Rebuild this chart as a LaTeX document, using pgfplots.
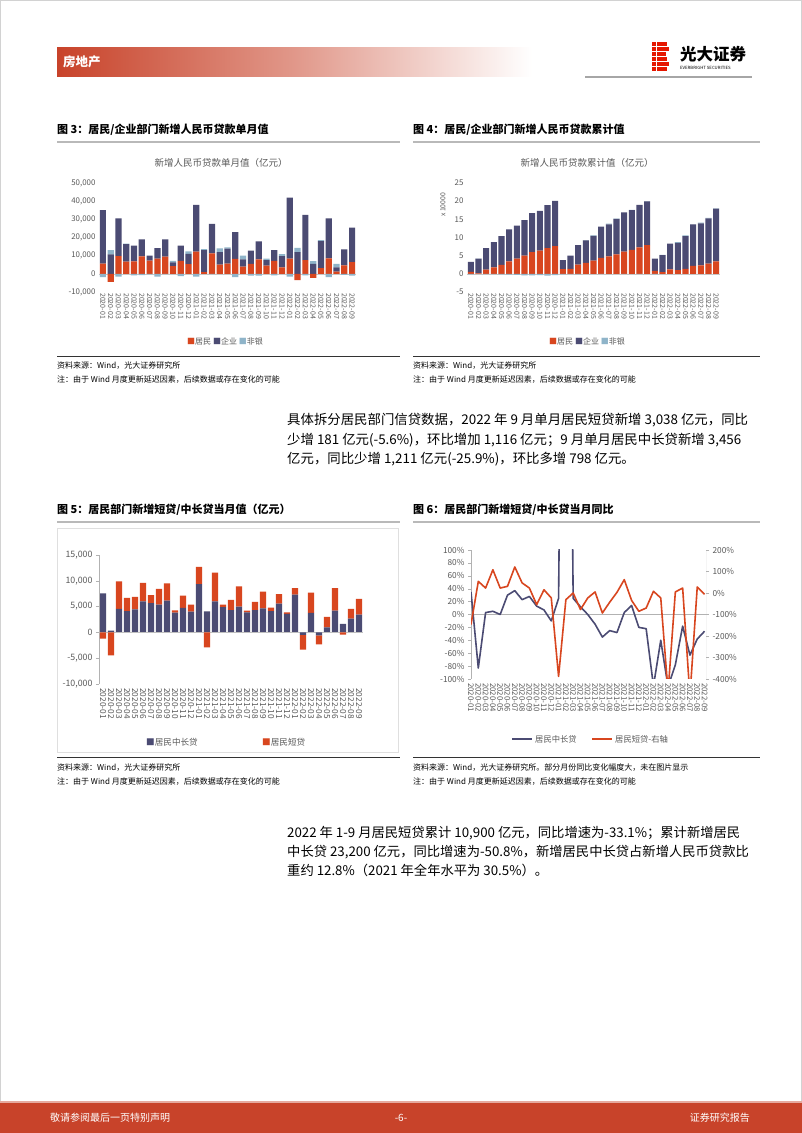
\documentclass[border=0pt]{standalone}
\usepackage{pgfplots}
\usepackage{pgfplotstable}
\pgfplotsset{compat=1.18}
\usepackage{fontspec}
\setmainfont{Noto Sans CJK SC}
\definecolor{hred}{HTML}{D8461F}
\definecolor{hnavy}{HTML}{4B4B73}
\definecolor{hblue}{HTML}{8FB4C9}
\definecolor{bandred}{HTML}{C8432A}
\definecolor{tickgray}{HTML}{595959}

% Fig 3: monthly new RMB loans (100m yuan), split into positive / negative parts
\pgfplotstableread{
x hhp corp nbp hhn nbn
1 5600 29400 0 0 -1800
2 0 10700 2300 -4500 0
3 9800 20700 0 0 -1600
4 6700 9600 300 0 0
5 6800 8700 0 0 -800
6 9600 9400 0 0 -700
7 7200 2800 0 0 -300
8 8400 5800 0 0 -1500
9 9500 9500 0 0 -200
10 4300 2000 800 0 0
11 7100 8400 0 0 -1300
12 5400 5600 1300 0 0
13 12200 25800 0 0 -1600
14 1000 12000 600 0 0
15 11300 16200 0 0 -200
16 5000 7000 2000 0 0
17 5600 8300 700 0 0
18 8200 14800 0 0 -1800
19 4000 4000 2000 0 0
20 5500 7300 0 0 -1000
21 7900 9900 0 0 -1000
22 4500 3000 900 0 0
23 7100 5900 0 0 -800
24 3600 6200 1000 0 0
25 8400 33600 0 0 -1500
26 0 12000 2300 -3400 0
27 7500 25000 0 0 -800
28 0 5500 1500 -2200 0
29 3200 14800 500 0 0
30 8500 22000 0 0 -1800
31 1200 2300 2000 0 0
32 4600 8900 0 0 -600
33 6500 19000 0 0 -1000
}\tThree

% Fig 4: cumulative (x 10000)
\pgfplotstableread{
x hh corp nbp nbn
1 0.56 2.74 0 -0.18
2 0.15 4.00 0.05 0
3 1.13 5.97 0 -0.11
4 1.80 6.90 0 -0.08
5 2.48 7.92 0 -0.16
6 3.44 8.76 0 -0.23
7 4.16 9.14 0 -0.26
8 5.00 9.80 0 -0.41
9 5.95 10.75 0 -0.43
10 6.38 10.92 0 -0.35
11 7.09 11.81 0 -0.48
12 7.63 12.47 0 -0.35
13 1.27 2.53 0 -0.16
14 1.37 3.63 0 -0.10
15 2.50 5.40 0 -0.12
16 3.00 6.22 0.08 0
17 3.60 6.85 0.15 0
18 4.40 8.60 0 -0.03
19 4.80 8.83 0.17 0
20 5.35 9.78 0.07 0
21 6.14 10.76 0 -0.03
22 6.60 10.94 0.06 0
23 7.30 11.70 0 -0.02
24 7.90 12.02 0.08 0
25 0.84 3.36 0 -0.15
26 0.50 4.62 0.08 0
27 1.25 7.05 0 0
28 1.03 7.52 0.15 0
29 1.35 9.05 0.20 0
30 2.20 11.38 0.02 0
31 2.32 11.56 0.22 0
32 2.78 12.46 0.16 0
33 3.43 14.51 0.06 0
}\tFour

% Fig 5: household mid/long-term and short-term loans
\pgfplotstableread{
x mlp stp mln stn
1 7580 0 0 -1200
2 320 0 0 -4450
3 4540 5330 0 0
4 4110 2560 0 0
5 4440 2420 0 0
6 6000 3620 0 0
7 5670 1560 0 0
8 5390 3050 0 0
9 6150 3340 0 0
10 3830 450 0 0
11 4770 2370 0 0
12 4040 1330 0 0
13 9370 3330 0 0
14 4070 0 0 -2900
15 6000 5600 0 0
16 4900 500 0 0
17 4300 2000 0 0
18 5000 3900 0 0
19 3900 300 0 0
20 4300 1600 0 0
21 4667 3219 0 0
22 4100 700 0 0
23 5600 1800 0 0
24 3600 300 0 0
25 7300 1300 0 0
26 0 0 -459 -2900
27 3800 3900 0 0
28 0 0 -600 -1700
29 950 2050 0 0
30 4200 4400 0 0
31 1650 0 0 -440
32 2658 1922 0 0
33 3456 3038 0 0
}\tFive

% Fig 6: YoY (%)
\pgfplotstableread{
x ml st
1 35 -147
2 -83 54
3 3 23
4 5 108
5 0 23
6 30 31
7 37 121
8 23 47
9 28 23
10 13 -54
11 7 15
12 -10 -23
13 25 -388
14 1170 -31
15 25 0
16 12 -77
17 0 -23
18 -15 5
19 -35 -93
20 -25 -43
21 -28 3
22 3 62
23 14 -34
24 -20 -85
25 -22 -70
26 -111 8
27 -40 -23
28 -112 -460
29 -78 5
30 -18 23
31 -63 -480
32 -38 28
33 -26 -6
}\tSix

\pgfplotsset{
 base/.style={
  scale only axis, anchor=south west, enlargelimits=false,
  axis line style={draw=none}, tick style={draw=none},
  /pgf/number format/assume math mode=true,
  /pgf/number format/1000 sep={,},
  scaled y ticks=false,
  ticklabel style={text=tickgray},
 },
 blank/.style={base, xtick=\empty, ytick=\empty},
 monthlabels/.style={xtick={1,...,33},
  xticklabels={2020-01,2020-02,2020-03,2020-04,2020-05,2020-06,2020-07,2020-08,2020-09,2020-10,2020-11,2020-12,2021-01,2021-02,2021-03,2021-04,2021-05,2021-06,2021-07,2021-08,2021-09,2021-10,2021-11,2021-12,2022-01,2022-02,2022-03,2022-04,2022-05,2022-06,2022-07,2022-08,2022-09},
  xticklabel style={rotate=-90, anchor=west, inner sep=1pt}},
}

\newcommand{\fs}[1]{\fontsize{#1}{#1}\selectfont}

\begin{document}
\begin{tikzpicture}[x=1pt,y=1pt]
\fill[white] (0,0) rectangle (802,1133);
\draw[gray!35, line width=0.6pt] (0.3,0.3) rectangle (801.7,1132.7);

% ---------- header ----------
\shade[left color=bandred, right color=white, middle color=bandred!55] (57,1056) rectangle (532,1085);
\node[anchor=base west, inner sep=0, text=white] at (63,1066) {\fs{12.5}\bfseries 房地产};
\foreach \yy/\ww in {1091/15,1086/17,1081/14,1076/15,1071/17,1066/15}
  \fill[red!80!orange!90!black] (652,\yy) rectangle ++(\ww,-4);
\fill[white] (656,1091) rectangle (657.2,1062);
\node[anchor=west, inner sep=0] at (680,1079) {\fs{16.5}\bfseries 光大证券};
\node[anchor=west, inner sep=0] at (680,1065) {\fs{4.3}EVERBRIGHT SECURITIES};
\draw[gray!70, line width=2pt] (585,1056) -- (752,1056);

% ---------- captions fig 3/4 ----------
\node[anchor=base west, inner sep=0] at (57,999) {\fs{11}\bfseries 图 3：居民/企业部门新增人民币贷款单月值};
\node[anchor=base west, inner sep=0] at (413,999) {\fs{11}\bfseries 图 4：居民/企业部门新增人民币贷款累计值};
\draw[gray!55, line width=1.6pt] (57,991) -- (400,991);
\draw[gray!55, line width=1.6pt] (413,991) -- (760,991);

\node[text=tickgray] at (221,970) {\fs{9.5}新增人民币贷款单月值（亿元）};
\node[text=tickgray] at (587,970) {\fs{9.5}新增人民币贷款累计值（亿元）};

% ---------- Fig 3 ----------
\begin{axis}[base, at={(99pt,841pt)}, width=257pt, height=109pt,
  xmin=0.5, xmax=33.5, ymin=-10000, ymax=50000,
  ytick={-10000,0,...,50000}, monthlabels,
  ybar stacked, bar width=6.2pt,
  yticklabel style={font=\fs{7.9}}, xticklabel style={font=\fs{7}}]
\addplot[fill=hred, draw=none] table[x=x,y=hhp]{\tThree};
\addplot[fill=hnavy, draw=none] table[x=x,y=corp]{\tThree};
\addplot[fill=hblue, draw=none] table[x=x,y=nbp]{\tThree};
\end{axis}
\begin{axis}[blank, at={(99pt,841pt)}, width=257pt, height=109pt,
  xmin=0.5, xmax=33.5, ymin=-10000, ymax=50000, ybar stacked, bar width=6.2pt]
\addplot[fill=hred, draw=none] table[x=x,y=hhn]{\tThree};
\addplot[fill=hblue, draw=none] table[x=x,y=nbn]{\tThree};
\draw[gray!45] (axis cs:0.5,0) -- (axis cs:33.5,0);
\end{axis}

% ---------- Fig 4 ----------
\begin{axis}[base, at={(467pt,841pt)}, width=253pt, height=109pt,
  xmin=0.5, xmax=33.5, ymin=-5, ymax=25,
  ytick={-5,0,...,25}, monthlabels,
  ybar stacked, bar width=6.1pt,
  yticklabel style={font=\fs{7.9}}, xticklabel style={font=\fs{7}}]
\addplot[fill=hred, draw=none] table[x=x,y=hh]{\tFour};
\addplot[fill=hnavy, draw=none] table[x=x,y=corp]{\tFour};
\addplot[fill=hblue, draw=none] table[x=x,y=nbp]{\tFour};
\end{axis}
\begin{axis}[blank, at={(467pt,841pt)}, width=253pt, height=109pt,
  xmin=0.5, xmax=33.5, ymin=-5, ymax=25, ybar stacked, bar width=6.1pt]
\addplot[fill=hblue, draw=none] table[x=x,y=nbn]{\tFour};
\draw[gray!45] (axis cs:0.5,0) -- (axis cs:33.5,0);
\end{axis}
\node[rotate=90, text=tickgray] at (443,928) {\fs{6.8}x 10000};

% legends 3/4
\node[text=tickgray] at (225,792) {\fs{8}{\color{hred}■}居民 {\color{hnavy}■}企业 {\color{hblue}■}非银};
\node[text=tickgray] at (587,792) {\fs{8}{\color{hred}■}居民 {\color{hnavy}■}企业 {\color{hblue}■}非银};

% sources 3/4
\draw[black!80, line width=0.6pt] (57,777) -- (400,777);
\draw[black!80, line width=0.6pt] (413,777) -- (760,777);
\node[anchor=base west, inner sep=0] at (57,764) {\fs{8}资料来源：Wind，光大证券研究所};
\node[anchor=base west, inner sep=0] at (57,750) {\fs{8}注：由于 Wind 月度更新延迟因素，后续数据或存在变化的可能};
\node[anchor=base west, inner sep=0] at (413,764) {\fs{8}资料来源：Wind，光大证券研究所};
\node[anchor=base west, inner sep=0] at (413,750) {\fs{8}注：由于 Wind 月度更新延迟因素，后续数据或存在变化的可能};

% paragraph 1
\node[anchor=base west, inner sep=0] at (287,708) {\fs{13.4}具体拆分居民部门信贷数据，2022 年 9 月单月居民短贷新增 3,038 亿元，同比};
\node[anchor=base west, inner sep=0] at (287,688) {\fs{13.4}少增 181 亿元(-5.6\%)，环比增加 1,116 亿元；9 月单月居民中长贷新增 3,456};
\node[anchor=base west, inner sep=0] at (287,669) {\fs{13.4}亿元，同比少增 1,211 亿元(-25.9\%)，环比多增 798 亿元。};

% ---------- captions fig 5/6 ----------
\node[anchor=base west, inner sep=0] at (57,619) {\fs{11}\bfseries 图 5：居民部门新增短贷/中长贷当月值（亿元）};
\node[anchor=base west, inner sep=0] at (413,619) {\fs{11}\bfseries 图 6：居民部门新增短贷/中长贷当月同比};
\draw[gray!55, line width=1.6pt] (57,611) -- (400,611);
\draw[gray!55, line width=1.6pt] (413,611) -- (760,611);

\draw[gray!25, line width=0.6pt] (57,381) rectangle (398,605);

% ---------- Fig 5 ----------
\begin{axis}[base, at={(99pt,449pt)}, width=264pt, height=129pt,
  xmin=0.5, xmax=33.5, ymin=-10000, ymax=15000,
  ytick={-10000,-5000,...,15000}, monthlabels,
  ytick style={draw=gray!60}, ytick pos=left, tick align=outside, major tick length=3pt,
  ybar stacked, bar width=6.4pt,
  yticklabel style={font=\fs{8.8}}, xticklabel style={font=\fs{8.3}}]
\draw[gray!60] (rel axis cs:0,0) -- (rel axis cs:0,1);
\addplot[fill=hnavy, draw=none] table[x=x,y=mlp]{\tFive};
\addplot[fill=hred, draw=none] table[x=x,y=stp]{\tFive};
\end{axis}
\begin{axis}[blank, at={(99pt,449pt)}, width=264pt, height=129pt,
  xmin=0.5, xmax=33.5, ymin=-10000, ymax=15000, ybar stacked, bar width=6.4pt]
\addplot[fill=hnavy, draw=none] table[x=x,y=mln]{\tFive};
\addplot[fill=hred, draw=none] table[x=x,y=stn]{\tFive};
\draw[gray!50] (axis cs:0.5,0) -- (axis cs:33.5,0);
\end{axis}
\node[anchor=west, inner sep=0, text=tickgray] at (146,391) {\fs{8.6}{\color{hnavy}■}居民中长贷};
\node[anchor=west, inner sep=0, text=tickgray] at (262,391) {\fs{8.6}{\color{hred}■}居民短贷};

% ---------- Fig 6 ----------
\begin{axis}[base, at={(471pt,454pt)}, width=235pt, height=129pt,
  xmin=1, xmax=33.2, ymin=-100, ymax=100,
  ytick={-100,-80,...,100}, yticklabel={\pgfmathprintnumber{\tick}\%},
  ytick style={draw=gray!60}, ytick pos=left, tick align=outside, major tick length=3pt,
  monthlabels,
  yticklabel style={font=\fs{8.3}}, xticklabel style={font=\fs{7.8}}]
\draw[gray!60] (rel axis cs:0,0) -- (rel axis cs:0,1);
\draw[gray!60] (axis cs:1,0) -- (axis cs:33.2,0);
\addplot[hnavy, line width=1.6pt, mark=none, line join=round] table[x=x,y=ml]{\tSix};
\end{axis}
\begin{axis}[base, at={(471pt,454pt)}, width=235pt, height=129pt,
  xmin=1, xmax=33.2, ymin=-400, ymax=200, xtick=\empty,
  ytick={-400,-300,...,200}, yticklabel={\pgfmathprintnumber{\tick}\%},
  ytick style={draw=gray!60}, ytick pos=right, tick align=outside, major tick length=3pt,
  yticklabel style={font=\fs{8.3}}]
\draw[gray!60] (rel axis cs:1,0) -- (rel axis cs:1,1);
\addplot[hred, line width=1.6pt, mark=none, line join=round] table[x=x,y=st]{\tSix};
\end{axis}
\draw[hnavy, line width=1.6pt] (512,394) -- (532,394);
\node[anchor=west, inner sep=0, text=tickgray] at (535,394) {\fs{8.3}居民中长贷};
\draw[hred, line width=1.6pt] (592,394) -- (612,394);
\node[anchor=west, inner sep=0, text=tickgray] at (615,394) {\fs{8.3}居民短贷-右轴};

% sources 5/6
\draw[black!80, line width=0.6pt] (57,376) -- (400,376);
\draw[black!80, line width=0.6pt] (413,376) -- (760,376);
\node[anchor=base west, inner sep=0] at (57,362) {\fs{8}资料来源：Wind，光大证券研究所};
\node[anchor=base west, inner sep=0] at (57,348) {\fs{8}注：由于 Wind 月度更新延迟因素，后续数据或存在变化的可能};
\node[anchor=base west, inner sep=0] at (413,362) {\fs{8}资料来源：Wind，光大证券研究所。部分月份同比变化幅度大，未在图片显示};
\node[anchor=base west, inner sep=0] at (413,348) {\fs{8}注：由于 Wind 月度更新延迟因素，后续数据或存在变化的可能};

% paragraph 2
\node[anchor=base west, inner sep=0] at (287,295) {\fs{13.3}2022 年 1-9 月居民短贷累计 10,900 亿元，同比增速为-33.1\%；累计新增居民};
\node[anchor=base west, inner sep=0] at (287,276) {\fs{13.3}中长贷 23,200 亿元，同比增速为-50.8\%，新增居民中长贷占新增人民币贷款比};
\node[anchor=base west, inner sep=0] at (287,257) {\fs{13.3}重约 12.8\%（2021 年全年水平为 30.5\%）。};

% ---------- footer ----------
\fill[bandred] (0,0) rectangle (802,30);
\fill[bandred!45] (0,30) rectangle (802,31.5);
\node[anchor=west, inner sep=0, text=white] at (50,15) {\fs{10}敬请参阅最后一页特别声明};
\node[inner sep=0, text=white] at (401,15) {\fs{10}-6-};
\node[anchor=east, inner sep=0, text=white] at (750,15) {\fs{10}证券研究报告};
\end{tikzpicture}
\end{document}
